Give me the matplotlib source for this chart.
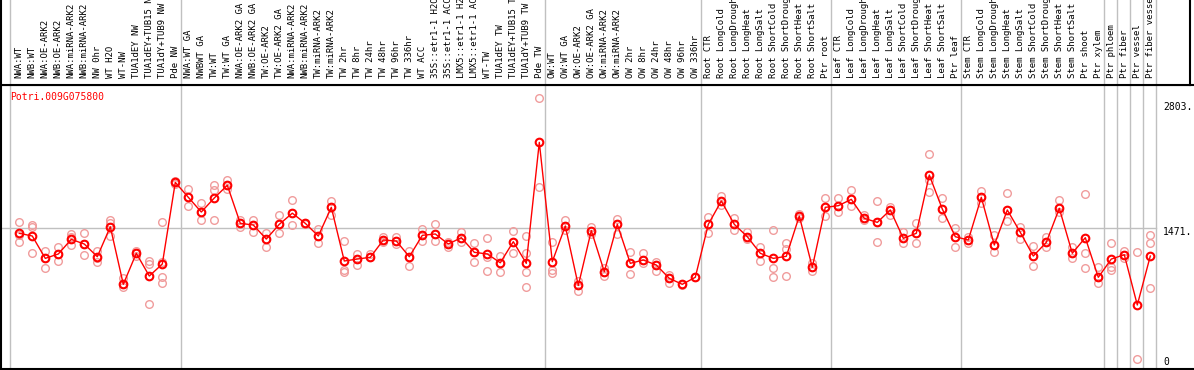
"""
Expression profile chart for Potri.009G075800 (mean line + replicate circles).
"""

import numpy as np
import matplotlib
matplotlib.use("Agg")
import matplotlib.pyplot as plt

# ============================================================================
# Data
# ============================================================================
GENE = "Potri.009G075800"

labels = [
    "NWA:WT", "NWB:WT", "NWA:OE-ARK2", "NWB:OE-ARK2", "NWA:miRNA-ARK2",
    "NWB:miRNA-ARK2", "NW 0hr", "WT H2O", "WT-NW", "TUA1dEY NW",
    "TUA1dEY+TUB15 NW", "TUA1dY+TUB9 NW", "Pde NW",
    "NWA:WT GA", "NWBWT GA", "TW:WT", "TW:WT GA", "NWA:OE-ARK2 GA",
    "NWB:OE-ARK2 GA", "TW:OE-ARK2", "TW:OE-ARK2 GA", "NWA:miRNA-ARK2",
    "NWB:miRNA-ARK2", "TW:miRNA-ARK2", "TW:miRNA-ARK2", "TW 2hr", "TW 8hr",
    "TW 24hr", "TW 48hr", "TW 96hr", "TW 336hr", "WT ACC", "35S::etr1-1 H2O",
    "35S::etr1-1 ACC", "LMX5::etr1-1 H2O", "LMX5::etr1-1 ACC", "WT-TW",
    "TUA1dEY TW", "TUA1dEY+TUB15 TW", "TUA1dY+TUB9 TW", "Pde TW",
    "OW:WT", "OW:WT GA", "OW:OE-ARK2", "OW:OE-ARK2 GA", "OW:miRNA-ARK2",
    "OW:miRNA-ARK2", "OW 2hr", "OW 8hr", "OW 24hr", "OW 48hr", "OW 96hr",
    "OW 336hr",
    "Root CTR", "Root LongCold", "Root LongDrought", "Root LongHeat",
    "Root LongSalt", "Root ShortCold", "Root ShortDrought", "Root ShortHeat",
    "Root ShortSalt", "Ptr root",
    "Leaf CTR", "Leaf LongCold", "Leaf LongDrought", "Leaf LongHeat",
    "Leaf LongSalt", "Leaf ShortCold", "Leaf ShortDrought", "Leaf ShortHeat",
    "Leaf ShortSalt", "Ptr leaf",
    "Stem CTR", "Stem LongCold", "Stem LongDrought", "Stem LongHeat",
    "Stem LongSalt", "Stem ShortCold", "Stem ShortDrought", "Stem ShortHeat",
    "Stem ShortSalt", "Ptr shoot", "Ptr xylem", "Ptr phloem", "Ptr fiber",
    "Ptr vessel", "Ptr fiber vessel",
]

means = [
    1420, 1392, 1163, 1208, 1358, 1310, 1180, 1487, 897, 1215, 982, 1105, 1942,
    1789, 1638, 1782, 1912, 1522, 1505, 1361, 1512, 1626, 1522, 1392, 1686,
    1136, 1156, 1174, 1351, 1341, 1180, 1399, 1413, 1310, 1375, 1225, 1208,
    1118, 1334, 1112, 2352,
    1129, 1495, 885, 1448, 1026, 1512, 1112, 1146, 1095, 958, 897, 969,
    1512, 1751, 1512, 1385, 1215, 1163, 1184, 1597, 1071, 1686,
    1703, 1768, 1573, 1532, 1659, 1368, 1420, 2017, 1669, 1385,
    1351, 1789, 1300, 1659, 1430, 1187, 1327, 1676, 1215, 1375, 969, 1156,
    1200, 685, 1187,
]

replicates = [
    [1532, 1334, 1400], [1505, 1481, 1215], [1241, 1061, 1170], [1282, 1139, 1205],
    [1413, 1385, 1297], [1420, 1194, 1310], [1241, 1163, 1129], [1556, 1528, 1392],
    [965, 866, 900], [1241, 1190, 1215], [1139, 1105, 692], [1532, 1129, 969, 907],
    [1960, 1925, 1942],
    [1874, 1703, 1789], [1727, 1556, 1638], [1915, 1864, 1556], [1966, 1871, 1912],
    [1556, 1487, 1522], [1556, 1436, 1505], [1426, 1282, 1361], [1607, 1420, 1512],
    [1761, 1505, 1626], [1528, 1515, 1522], [1461, 1323, 1392], [1751, 1607, 1686],
    [1341, 1044, 1026], [1204, 1095, 1156], [1204, 1180, 1174], [1385, 1334, 1351],
    [1385, 1310, 1341], [1241, 1088, 1180], [1461, 1344, 1399], [1512, 1344, 1413],
    [1334, 1282, 1310], [1436, 1334, 1375], [1323, 1129, 1225], [1368, 1180, 1036],
    [1187, 1026, 1118], [1446, 1221, 1334], [1395, 1215, 1026, 872], [2803, 1897],
    [1334, 1044, 1010], [1556, 1453, 1495], [934, 831, 885], [1487, 1413, 1448],
    [1061, 985, 1026], [1566, 1413, 1512], [1225, 1002, 1112], [1215, 1112, 1146],
    [1129, 1033, 1095], [992, 913, 958], [897, 890], [969, 975],
    [1584, 1426, 1512], [1802, 1710, 1751], [1573, 1453, 1512], [1436, 1361, 1385],
    [1282, 1139, 1215], [1453, 1061, 975], [1317, 1256, 982], [1614, 1580, 1597],
    [1112, 1036, 1071], [1778, 1597, 1686],
    [1778, 1635, 1703], [1864, 1703, 1768], [1607, 1556, 1573], [1751, 1327, 1532],
    [1692, 1607, 1659], [1436, 1317, 1368], [1528, 1317, 1420], [2229, 1966, 1846],
    [1778, 1573, 1669], [1477, 1276, 1385],
    [1382, 1320, 1351], [1856, 1727, 1789], [1402, 1225, 1300], [1830, 1546, 1659],
    [1487, 1361, 1430], [1289, 1088, 1187], [1379, 1276, 1327], [1761, 1641, 1676],
    [1282, 1163, 1215], [1819, 1215, 1061], [1077, 907, 969], [1317, 1077, 1044],
    [1241, 1163, 1200], [1231, 128], [1402, 1317, 856],
]

# last index of each block -> vertical separator lines
group_ends = [12, 40, 52, 62, 72, 83, 84, 85, 86, 87]

y_max_label = 2803
y_mid_label = 1471

# ============================================================================
# Layout (pixel based, 1194 x 370)
# ============================================================================
W, H = 1194, 370
plt.rcParams['font.family'] = ['DejaVu Sans Mono']


def px_box(left, top, right, bottom):
    return [left / W, 1 - bottom / H, (right - left) / W, (bottom - top) / H]


def px_to_x(px):
    return (px - 19.3) / 13.0


fig = plt.figure(figsize=(W / 100, H / 100), dpi=100)
ax = fig.add_axes(px_box(1, 85, 1194, 369))
ax_lab = fig.add_axes(px_box(1, 0, 1190, 85))

GRID = '#c0c0c0'
RED = '#ff0000'
PINK = '#f09c9c'

# ============================================================================
# Main plot
# ============================================================================
x = np.arange(len(labels))
ax.set_xlim(px_to_x(1), px_to_x(1194))
ax.set_ylim(29, 2940)

seps = [px_to_x(10.3)] + [e + 0.42 for e in group_ends]
for s in seps:
    ax.axvline(s, color=GRID, lw=1, zorder=0)
    ax_lab.axvline(s, color=GRID, lw=1, zorder=0)
ax.plot([px_to_x(1), seps[-1]], [y_mid_label, y_mid_label], color=GRID, lw=1, zorder=0)

for i, reps in enumerate(replicates):
    ax.plot([i] * len(reps), reps, 'o', mfc='none', mec=PINK, ms=5.5, mew=1, zorder=2)

ax.plot(x, means, '-', color=RED, lw=1, zorder=3)
ax.plot(x, means, 'o', mfc='none', mec=RED, ms=5.5, mew=1.5, zorder=4)

ax.set_xticks([])
ax.set_yticks([])
for side in ['left', 'bottom', 'top']:
    ax.spines[side].set_color('black')
    ax.spines[side].set_linewidth(1.5)
ax.spines['right'].set_visible(False)

# right hand value labels
ax.annotate(f'{y_max_label}.', xy=(px_to_x(1163), y_max_label), xytext=(0, -9),
            textcoords='offset pixels', ha='left', va='center', fontsize=7)
ax.annotate(f'{y_mid_label}.', xy=(px_to_x(1163), y_mid_label), xytext=(0, -4),
            textcoords='offset pixels', ha='left', va='center', fontsize=7)
ax.annotate('0', xy=(px_to_x(1163), 29), xytext=(0, 7),
            textcoords='offset pixels', ha='left', va='center', fontsize=7)

fig.text(10 / W, 1 - 97 / H, GENE, color=RED, fontsize=7, ha='left', va='center')

# ============================================================================
# Sample labels (top strip)
# ============================================================================
ax_lab.set_xlim(px_to_x(1), px_to_x(1190))
ax_lab.set_ylim(0, 1)
ax_lab.set_xticks([])
ax_lab.set_yticks([])
ax_lab.spines['top'].set_visible(False)
for side in ['left', 'right', 'bottom']:
    ax_lab.spines[side].set_linewidth(1.5)

for i, lab in enumerate(labels):
    ax_lab.annotate(lab, xy=(i, 0), xycoords=('data', 'axes fraction'),
                    xytext=(0, 7), textcoords='offset pixels',
                    rotation=90, ha='center', va='bottom', fontsize=6.5)

fig.savefig('out.png', dpi=100)
